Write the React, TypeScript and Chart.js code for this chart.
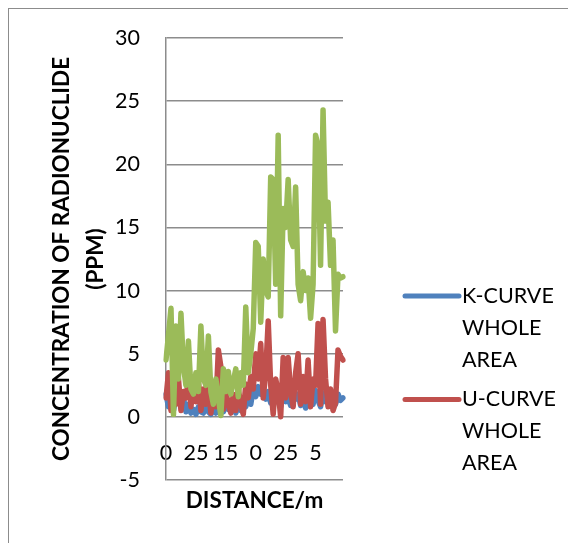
import React, { useEffect, useRef } from "react";
import { Chart, registerables } from "chart.js";

Chart.register(...registerables);

// Concentration readings along the traverse (ppm)
const kCurve = [
  1.8, 0.8, 1.9, 0.5, 1.6, 1.9, 0.8, 1.5, 0.4, 1.0,
  0.3, 0.6, 0.2, 0.8, 0.4, 0.3, 1.0, 0.4, 0.2, 0.6,
  0.3, 0.5, 0.9, 0.4, 1.0, 0.6, 0.8, 1.2, 0.3, 1.0,
  0.5, 1.5, 0.8, 1.7, 1.0, 2.2, 1.6, 2.4, 1.8, 2.2,
  1.4, 2.0, 1.1, 1.8, 1.6, 2.3, 0.8, 2.0, 1.2, 1.6,
  0.9, 2.0, 1.4, 1.8, 0.9, 1.5, 0.7, 1.3, 1.8, 1.0,
  2.1, 1.3, 0.8, 1.9, 1.2, 2.0, 1.1, 1.6, 1.0, 1.8,
  1.3, 1.5,
];

const uCurve = [
  1.5, 3.5, 0.5, 4.0, 1.0, 3.0, 0.5, 2.0, 1.5, 3.0,
  0.8, 2.5, 1.2, 2.8, 0.5, 2.2, 1.0, 2.5, 0.3, 1.8,
  0.8, 5.3, 4.0, 0.6, 2.0, 1.0, 0.3, 1.8, 0.5, 2.2,
  1.0, 0.2, 2.6, 1.5, 3.2, 2.2, 5.0, 3.0, 5.8, 1.5,
  3.5, 7.6, 2.5, 0.2, 3.0, 2.0, 0.0, 4.7, 1.5, 4.7,
  2.0, 0.8, 3.5, 5.0, 1.0, 3.2, 1.2, 4.5, 0.8, 3.0,
  2.5, 7.4, 1.0, 7.7, 3.0, 0.8, 2.2, 0.5, 1.1, 5.3,
  4.8, 4.5,
];

const thCurve = [
  4.5, 6.5, 8.6, 0.2, 7.2, 3.0, 8.2, 4.0, 2.5, 6.0,
  2.2, 1.8, 3.5, 2.0, 7.2, 3.0, 2.5, 6.4, 2.0, 1.0,
  3.0, 1.5, 0.1, 3.8, 2.0, 3.6, 1.8, 2.8, 3.8, 1.6,
  3.5, 2.5, 8.7, 3.5, 5.0, 7.0, 13.8, 13.5, 7.5, 12.5,
  10.0, 9.5, 19.0, 18.8, 10.5, 22.3, 8.0, 16.5, 15.0, 18.8,
  14.0, 13.5, 18.2, 10.5, 9.2, 11.5, 10.0, 11.0, 7.8, 10.5,
  22.3, 21.5, 12.0, 24.3, 15.5, 17.0, 12.0, 14.0, 6.8, 11.3,
  11.0, 11.1,
];

// Distance labels shown along the category axis, one every labelStep readings
const distanceLabels = ["0", "25", "15", "0", "25", "5"];
const labelStep = 12;

const yMin = -5;
const yMax = 30;
const yStep = 5;

const categories = kCurve.map((_, i) =>
  i % labelStep === 0 ? distanceLabels[i / labelStep] ?? "" : ""
);

const FONT = "Lato";
const GRID = "#8c8c8c";

// Legend drawn to the right of the plot, with wrapped labels
const wrappedLegend = {
  id: "wrappedLegend",
  afterDraw(chart: any) {
    const { ctx, chartArea } = chart;
    const lineStep = 31.8;
    let y = 287;
    ctx.save();
    ctx.font = `21.5px ${FONT}`;
    ctx.textBaseline = "middle";
    ctx.textAlign = "left";
    chart.data.datasets.forEach((ds: any) => {
      if (!ds.inLegend) return;
      ctx.strokeStyle = ds.borderColor;
      ctx.lineWidth = 5;
      ctx.lineCap = "round";
      ctx.beginPath();
      ctx.moveTo(chartArea.right + 62, y);
      ctx.lineTo(chartArea.right + 116, y);
      ctx.stroke();
      ctx.fillStyle = "#000";
      const words: string[] = ds.label.split(" ");
      words.forEach((w, k) => {
        ctx.fillText(w, chartArea.right + 119, y + k * lineStep);
      });
      y += words.length * lineStep + 8;
    });
    ctx.restore();
  },
};

export default function App() {
  const ref = useRef<HTMLCanvasElement | null>(null);

  useEffect(() => {
    if (!ref.current) return;
    Chart.defaults.font.family = FONT;
    Chart.defaults.color = "#000";

    const lineStyle = {
      borderWidth: 5.5,
      pointRadius: 0,
      tension: 0,
      borderJoinStyle: "round" as const,
      borderCapStyle: "round" as const,
      fill: false,
    };

    const chart = new Chart(ref.current, {
      type: "line",
      data: {
        labels: categories,
        datasets: [
          {
            label: "K-CURVE WHOLE AREA",
            data: kCurve,
            borderColor: "#4F81BD",
            backgroundColor: "#4F81BD",
            order: 2,
            inLegend: true,
            ...lineStyle,
          } as any,
          {
            label: "U-CURVE WHOLE AREA",
            data: uCurve,
            borderColor: "#C0504D",
            backgroundColor: "#C0504D",
            order: 1,
            inLegend: true,
            ...lineStyle,
          } as any,
          {
            label: "TH-CURVE WHOLE AREA",
            data: thCurve,
            borderColor: "#9BBB59",
            backgroundColor: "#9BBB59",
            order: 0,
            inLegend: false,
            ...lineStyle,
          } as any,
        ],
      },
      options: {
        responsive: false,
        animation: false,
        layout: { padding: { left: 36, top: 29, right: 233, bottom: 0 } },
        plugins: {
          legend: { display: false },
          tooltip: { enabled: false },
        },
        scales: {
          x: {
            type: "category",
            position: { y: 0 } as any,
            offset: false,
            grid: { display: false, drawTicks: false },
            border: { display: false },
            ticks: {
              autoSkip: false,
              maxRotation: 0,
              minRotation: 0,
              padding: 23,
              font: { size: 21.5 },
              color: "#000",
            },
            afterFit: (s: any) => {
              s.height = 0;
            },
          },
          xTitle: {
            type: "category",
            position: "bottom",
            grid: { display: false, drawTicks: false },
            border: { display: false },
            ticks: { display: false },
            title: {
              display: true,
              text: "DISTANCE/m",
              font: { size: 22.5, weight: "bold" },
              color: "#000",
              padding: { top: 0, bottom: 29 },
            },
            afterFit: (s: any) => {
              s.height = 63;
            },
          },
          y: {
            min: yMin,
            max: yMax,
            ticks: {
              stepSize: yStep,
              padding: 0,
              font: { size: 21.5 },
              color: "#000",
            },
            grid: {
              color: GRID,
              lineWidth: 1.5,
              drawTicks: true,
              tickLength: 26,
              tickColor: "rgba(0,0,0,0)",
            },
            border: { color: GRID, width: 1.5 },
            title: {
              display: true,
              text: ["CONCENTRATION OF RADIONUCLIDE", "(PPM)"],
              font: { size: 22.5, weight: "bold", lineHeight: 1.5 },
              color: "#000",
              padding: { top: 0, bottom: 0 },
            },
            afterFit: (s: any) => {
              s.width = 121;
            },
          },
        },
      },
      plugins: [wrappedLegend],
    });

    return () => chart.destroy();
  }, []);

  return (
    <div
      style={{
        width: 567,
        height: 534,
        borderTop: "1px solid #8c8c8c",
        borderLeft: "1px solid #8c8c8c",
        background: "#fff",
      }}
    >
      <canvas ref={ref} width={567} height={534} style={{ display: "block" }} />
    </div>
  );
}
